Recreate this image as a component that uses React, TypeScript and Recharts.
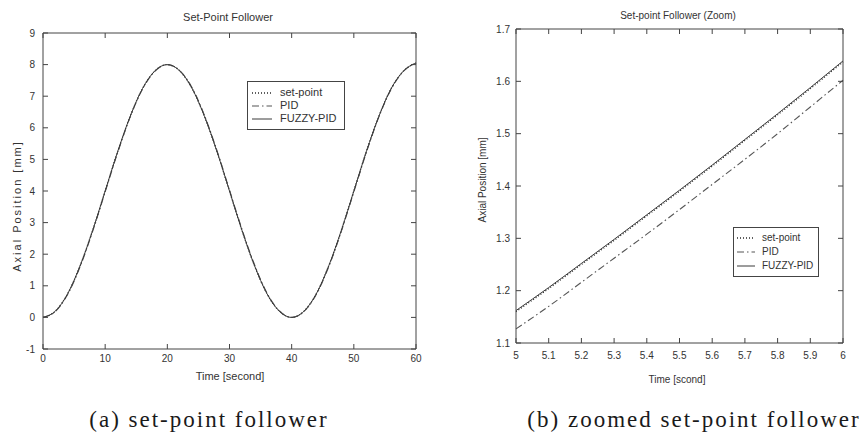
import { Legend, Line, LineChart, XAxis, YAxis } from 'recharts'

// Full run: time [s] and axial position [mm].
const fullTime = [
  0, 2, 4, 6, 8, 10, 12, 14, 16, 18, 20, 22, 24, 26, 28, 30, 32, 34, 36, 38, 40, 42, 44, 46, 48,
  50, 52, 54, 56, 58, 60,
]
const fullSetPoint = [
  0, 0.2, 0.76, 1.65, 2.76, 4.0, 5.24, 6.35, 7.24, 7.8, 8.0, 7.8, 7.24, 6.35, 5.24, 4.0, 2.76,
  1.65, 0.76, 0.2, 0, 0.2, 0.76, 1.65, 2.76, 4.0, 5.24, 6.35, 7.24, 7.8, 8.05,
]
const fullPid = [
  0, 0.19, 0.74, 1.62, 2.73, 3.97, 5.21, 6.33, 7.22, 7.79, 8.0, 7.81, 7.26, 6.38, 5.27, 4.03, 2.79,
  1.68, 0.78, 0.21, 0, 0.19, 0.74, 1.62, 2.73, 3.97, 5.21, 6.33, 7.22, 7.79, 8.05,
]
const fullFuzzy = [
  0, 0.2, 0.76, 1.65, 2.76, 4.0, 5.24, 6.35, 7.24, 7.8, 8.0, 7.8, 7.24, 6.35, 5.24, 4.0, 2.76,
  1.65, 0.76, 0.2, 0, 0.2, 0.76, 1.65, 2.76, 4.0, 5.24, 6.35, 7.24, 7.8, 8.05,
]
const fullXTicks = [0, 10, 20, 30, 40, 50, 60]
const fullYTicks = [-1, 0, 1, 2, 3, 4, 5, 6, 7, 8, 9]

// Zoomed window 5..6 s.
const zoomTime = [5, 5.1, 5.2, 5.3, 5.4, 5.5, 5.6, 5.7, 5.8, 5.9, 6]
const zoomSetPoint = [1.16, 1.204, 1.25, 1.296, 1.343, 1.39, 1.438, 1.487, 1.536, 1.586, 1.637]
const zoomPid = [1.127, 1.17, 1.216, 1.262, 1.308, 1.355, 1.403, 1.451, 1.5, 1.551, 1.602]
const zoomFuzzy = [1.162, 1.206, 1.252, 1.298, 1.345, 1.392, 1.44, 1.489, 1.538, 1.588, 1.639]
const zoomXTicks = [5, 5.1, 5.2, 5.3, 5.4, 5.5, 5.6, 5.7, 5.8, 5.9, 6]
const zoomYTicks = [1.1, 1.2, 1.3, 1.4, 1.5, 1.6, 1.7]

const seriesKeys = ['setPoint', 'pid', 'fuzzy']
const seriesNames = ['set-point', 'PID', 'FUZZY-PID']

const fullData = fullTime.map((t, i) => ({
  t,
  setPoint: fullSetPoint[i],
  pid: fullPid[i],
  fuzzy: fullFuzzy[i],
}))

const zoomData = zoomTime.map((t, i) => ({
  t,
  setPoint: zoomSetPoint[i],
  pid: zoomPid[i],
  fuzzy: zoomFuzzy[i],
}))

// Line look per series (matlab-ish: dotted, dash-dot, solid).
const seriesStyle: Record<string, { dash?: string; color: string; width: number }> = {
  setPoint: { dash: '1 2', color: '#2a2a2a', width: 1.3 },
  pid: { dash: '7 3 1.5 3', color: '#555', width: 1.1 },
  fuzzy: { color: '#3a3a3a', width: 1 },
}

const AXIS = '#444'
const SANS = '"Liberation Sans", Arial, sans-serif'

interface BoxLegendProps {
  fontSize: number
  sampleWidth: number
  rowHeight: number
  padTop: number
  padLeft: number
  gap: number
}

// Boxed legend, drawn from the series lists (keeps plot order).
function BoxLegend({ fontSize, sampleWidth, rowHeight, padTop, padLeft, gap }: BoxLegendProps) {
  return (
    <div
      style={{
        border: `1px solid ${AXIS}`,
        background: '#fff',
        padding: `${padTop}px 0 ${padTop}px ${padLeft}px`,
        fontFamily: SANS,
        fontSize,
        color: '#333',
        boxSizing: 'border-box',
      }}
    >
      {seriesKeys.map((key, i) => {
        const s = seriesStyle[key]
        return (
          <div key={key} style={{ display: 'flex', alignItems: 'center', height: rowHeight }}>
            <svg width={sampleWidth} height={6} style={{ display: 'block' }}>
              <line
                x1={0}
                y1={3}
                x2={sampleWidth}
                y2={3}
                stroke={s.color}
                strokeWidth={s.width}
                strokeDasharray={s.dash}
              />
            </svg>
            <span style={{ marginLeft: gap, lineHeight: 1 }}>{seriesNames[i]}</span>
          </div>
        )
      })}
    </div>
  )
}

function renderLines() {
  return seriesKeys.map((key, i) => (
    <Line
      key={key}
      type="monotone"
      dataKey={key}
      name={seriesNames[i]}
      stroke={seriesStyle[key].color}
      strokeWidth={seriesStyle[key].width}
      strokeDasharray={seriesStyle[key].dash}
      dot={false}
      activeDot={false}
      isAnimationActive={false}
    />
  ))
}

const tickStyle = { fontSize: 10, fill: '#333', fontFamily: SANS }

export default function App() {
  return (
    <div
      style={{
        position: 'absolute',
        left: 0,
        top: 0,
        width: 861,
        height: 435,
        background: '#fff',
        fontFamily: SANS,
      }}
    >
      {/* (a) full run */}
      <div style={{ position: 'absolute', left: 0, top: 0 }}>
        <LineChart
          width={430}
          height={435}
          data={fullData}
          margin={{ top: 32, right: 13, bottom: 66, left: 0 }}
        >
          <XAxis
            dataKey="t"
            type="number"
            domain={[0, 60]}
            ticks={fullXTicks}
            interval={0}
            height={20}
            tickSize={-5}
            tickMargin={11}
            stroke={AXIS}
            tick={tickStyle}
          />
          <XAxis
            xAxisId="top"
            orientation="top"
            dataKey="t"
            type="number"
            domain={[0, 60]}
            ticks={fullXTicks}
            interval={0}
            height={1}
            tickSize={-5}
            tickFormatter={() => ''}
            stroke={AXIS}
          />
          <YAxis
            type="number"
            domain={[-1, 9]}
            ticks={fullYTicks}
            interval={0}
            width={43}
            tickSize={-5}
            tickMargin={13}
            stroke={AXIS}
            tick={tickStyle}
          />
          <YAxis
            yAxisId="right"
            orientation="right"
            type="number"
            domain={[-1, 9]}
            ticks={fullYTicks}
            interval={0}
            width={1}
            tickSize={-5}
            tickFormatter={() => ''}
            stroke={AXIS}
            allowDataOverflow
          />
          <Legend
            layout="horizontal"
            verticalAlign="middle"
            align="center"
            wrapperStyle={{ left: 247, top: 81, width: 98 }}
            content={() => (
              <BoxLegend
                fontSize={11}
                sampleWidth={20}
                rowHeight={13}
                padTop={4}
                padLeft={4}
                gap={8}
              />
            )}
          />
          {renderLines()}
        </LineChart>
      </div>

      {/* (b) zoom 5..6 s */}
      <div style={{ position: 'absolute', left: 430, top: 0 }}>
        <LineChart
          width={431}
          height={435}
          data={zoomData}
          margin={{ top: 28, right: 17, bottom: 72, left: 0 }}
        >
          <XAxis
            dataKey="t"
            type="number"
            domain={[5, 6]}
            ticks={zoomXTicks}
            interval={0}
            height={20}
            tickSize={-5}
            tickMargin={14}
            stroke={AXIS}
            tick={tickStyle}
          />
          <XAxis
            xAxisId="top"
            orientation="top"
            dataKey="t"
            type="number"
            domain={[5, 6]}
            ticks={zoomXTicks}
            interval={0}
            height={1}
            tickSize={-5}
            tickFormatter={() => ''}
            stroke={AXIS}
          />
          <YAxis
            type="number"
            domain={[1.1, 1.7]}
            ticks={zoomYTicks}
            interval={0}
            width={86}
            tickSize={-5}
            tickMargin={11}
            stroke={AXIS}
            tick={tickStyle}
            allowDataOverflow
          />
          <YAxis
            yAxisId="right"
            orientation="right"
            type="number"
            domain={[1.1, 1.7]}
            ticks={zoomYTicks}
            interval={0}
            width={1}
            tickSize={-5}
            tickFormatter={() => ''}
            stroke={AXIS}
            allowDataOverflow
          />
          <Legend
            layout="horizontal"
            verticalAlign="middle"
            align="center"
            wrapperStyle={{ left: 303, top: 227, width: 86 }}
            content={() => (
              <BoxLegend
                fontSize={10}
                sampleWidth={18}
                rowHeight={14}
                padTop={3}
                padLeft={3}
                gap={7}
              />
            )}
          />
          {renderLines()}
        </LineChart>
      </div>

      {/* titles, axis names and captions */}
      <svg
        width={861}
        height={435}
        style={{ position: 'absolute', left: 0, top: 0, pointerEvents: 'none' }}
      >
        <g fontFamily={SANS} fill="#333">
          <text x={228} y={21} fontSize={11} textAnchor="middle">
            Set-Point Follower
          </text>
          <text x={678} y={19} fontSize={10} textAnchor="middle">
            Set-point Follower (Zoom)
          </text>
          <text
            x={21}
            y={206}
            fontSize={11}
            letterSpacing={2}
            textAnchor="middle"
            transform="rotate(-90 21 206)"
          >
            Axial Position [mm]
          </text>
          <text
            x={486}
            y={180}
            fontSize={10}
            textAnchor="middle"
            transform="rotate(-90 486 180)"
          >
            Axial Position [mm]
          </text>
          <text x={230} y={380} fontSize={11} textAnchor="middle">
            Time [second]
          </text>
          <text x={677} y={383} fontSize={10} textAnchor="middle">
            Time [scond]
          </text>
        </g>
        <g fontFamily='"Liberation Serif", "Times New Roman", serif' fill="#1a1a1a" fontSize={23}>
          <text x={209} y={427} textAnchor="middle" letterSpacing={2}>
            (a) set-point follower
          </text>
          <text x={694} y={427} textAnchor="middle" letterSpacing={2}>
            (b) zoomed set-point follower
          </text>
        </g>
      </svg>
    </div>
  )
}
